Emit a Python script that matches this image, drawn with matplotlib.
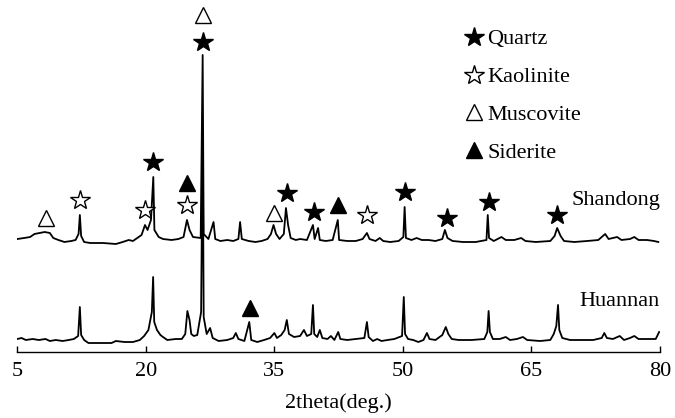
import numpy as np
import matplotlib.pyplot as plt
from matplotlib.lines import Line2D

plt.rcParams['font.family'] = ['Liberation Serif', 'DejaVu Serif']

# XRD traces, 2theta (deg) and intensity (a.u.)
huannan_2theta = [5.0, 5.5, 6.0, 6.8, 7.5, 8.3, 8.8, 9.5, 10.3, 11.0, 11.6, 12.1, 12.3, 12.45, 12.8,
                  13.3, 14.5, 16.0, 16.5, 17.5, 18.5, 19.3, 19.8, 20.3, 20.7, 20.85, 20.98, 21.3, 21.7,
                  22.0, 22.5, 23.5, 24.2, 24.6, 24.85, 25.1, 25.3, 25.6, 26.0, 26.45, 26.63, 26.75, 27.1,
                  27.5, 27.8, 28.5, 29.5, 30.2, 30.5, 30.8, 31.5, 32.07, 32.3, 33.0, 33.8, 34.5, 35.0,
                  35.3, 35.8, 36.2, 36.45, 36.7, 37.3, 38.0, 38.45, 38.8, 39.3, 39.5, 39.65, 40.0, 40.3,
                  40.6, 41.2, 41.6, 42.0, 42.45, 42.7, 43.5, 44.5, 45.5, 45.8, 46.0, 46.5, 47.0, 47.5,
                  48.2, 49.0, 49.9, 50.1, 50.25, 50.6, 51.2, 51.8, 52.4, 52.8, 53.1, 53.8, 54.6, 55.0,
                  55.3, 55.7, 56.5, 58.0, 59.5, 59.85, 60.0, 60.15, 60.5, 61.3, 62.0, 62.5, 63.3, 64.0,
                  64.5, 66.0, 67.2, 67.6, 67.9, 68.1, 68.25, 68.6, 69.5, 71.0, 72.2, 73.2, 73.5, 73.8,
                  74.5, 75.3, 75.8, 76.5, 77.0, 77.5, 78.5, 79.5, 79.9]
huannan_int = [13, 14, 12, 13, 12, 13, 11, 12, 11, 12, 13, 16, 45, 17, 12,
               9, 9, 9, 11, 10, 10, 12, 16, 22, 40, 75, 30, 22, 17,
               15, 12, 13, 13, 18, 41, 32, 18, 16, 17, 40, 225, 35, 18,
               24, 14, 11, 12, 14, 19, 13, 11, 30, 12, 10, 12, 14, 19,
               14, 17, 22, 32, 18, 15, 16, 22, 16, 18, 47, 18, 15, 22,
               14, 13, 16, 12, 20, 13, 12, 13, 14, 30, 15, 11, 13, 11,
               12, 13, 16, 55, 18, 13, 12, 10, 12, 19, 13, 12, 17, 25,
               18, 13, 12, 12, 13, 20, 41, 20, 13, 13, 15, 12, 13, 15,
               12, 11, 12, 18, 26, 47, 22, 14, 12, 12, 12, 14, 19, 14,
               13, 16, 12, 14, 16, 13, 13, 13, 20]

shandong_2theta = [5.0, 5.8, 6.5, 7.0, 7.6, 8.2, 8.8, 9.2, 9.8, 10.5, 11.3, 11.8, 12.15, 12.3, 12.45,
                   12.8, 13.5, 15.0, 16.5, 17.3, 18.0, 18.5, 19.0, 19.5, 19.9, 20.2, 20.6, 20.87, 21.0,
                   21.5, 22.0, 23.0, 23.8, 24.4, 24.8, 25.1, 25.5, 26.4, 26.63, 26.75, 27.3, 27.9, 28.1,
                   28.7, 29.5, 30.2, 30.8, 31.0, 31.2, 32.0, 32.8, 33.5, 34.2, 34.6, 34.9, 35.2, 35.6,
                   36.1, 36.35, 36.6, 36.9, 37.5, 38.0, 38.8, 39.5, 39.7, 40.1, 40.3, 41.0, 41.8, 42.4,
                   42.55, 43.5, 44.5, 45.3, 45.8, 46.1, 46.8, 47.3, 47.7, 48.5, 49.5, 50.05, 50.2, 50.35,
                   51.0, 51.6, 52.2, 53.0, 53.8, 54.6, 54.9, 55.2, 55.8, 57.0, 58.5, 59.75, 59.9, 60.05,
                   60.6, 61.5, 62.0, 63.0, 63.8, 64.3, 65.5, 67.2, 67.7, 68.0, 68.4, 68.8, 70.0, 71.5,
                   72.8, 73.6, 74.0, 75.0, 75.5, 76.5, 77.0, 77.5, 78.5, 79.3, 79.8]
shandong_int = [13, 14, 15, 18, 19, 20, 19, 14, 12, 10, 11, 12, 18, 37, 16,
                10, 9, 9, 8, 10, 12, 11, 14, 17, 27, 22, 32, 75, 22,
                15, 13, 12, 13, 15, 32, 22, 15, 14, 197, 18, 13, 30, 13,
                11, 12, 11, 13, 30, 13, 11, 10, 11, 13, 18, 27, 18, 13,
                18, 44, 27, 14, 12, 13, 12, 27, 13, 24, 12, 11, 12, 32,
                12, 11, 11, 13, 19, 13, 11, 14, 11, 10, 11, 15, 45, 14,
                12, 14, 12, 12, 11, 13, 22, 14, 11, 10, 10, 12, 37, 14,
                11, 15, 12, 12, 14, 11, 10, 11, 16, 24, 16, 11, 10, 11,
                12, 18, 13, 15, 12, 13, 15, 12, 12, 11, 10]
shandong_offset = 100

# phase marks: (2theta, height)
quartz_x = [20.85, 26.63, 36.5, 39.6, 50.2, 55.1, 60.0, 67.95]
quartz_y = [190, 310, 159, 140, 160, 134, 150, 137]
kaolinite_x = [12.3, 19.9, 24.85, 45.8]
kaolinite_y = [152, 142, 147, 137]
muscovite_x = [8.35, 26.63, 35.0]
muscovite_y = [134, 337, 139]
siderite_x = [24.85, 42.45, 32.15]
siderite_y = [169, 147, 44]

fig = plt.figure(figsize=(6.75, 4.18), dpi=100)
ax = fig.add_axes([17.3 / 675, 66 / 418, 642.7 / 675, 352 / 418])

ax.plot(huannan_2theta, huannan_int, color='black', lw=1.3)
ax.plot(shandong_2theta, np.array(shandong_int) + shandong_offset, color='black', lw=1.3)

star = dict(marker='*', markersize=15, linestyle='none', clip_on=False)
tri = dict(marker='^', markersize=11.5, linestyle='none', clip_on=False)
ax.plot(quartz_x, quartz_y, color='black', **star)
ax.plot(kaolinite_x, kaolinite_y, markerfacecolor='white', markeredgecolor='black',
        markeredgewidth=1.0, **star)
ax.plot(muscovite_x, muscovite_y, markerfacecolor='white', markeredgecolor='black',
        markeredgewidth=1.0, **tri)
ax.plot(siderite_x, siderite_y, color='black', **tri)

ax.text(80, 152, 'Shandong', ha='right', va='center', fontsize=16)
ax.text(80, 50, 'Huannan', ha='right', va='center', fontsize=16)

handles = [
    Line2D([], [], color='black', marker='*', markersize=15, linestyle='none'),
    Line2D([], [], marker='*', markersize=15, markerfacecolor='white',
           markeredgecolor='black', markeredgewidth=1.0, linestyle='none'),
    Line2D([], [], marker='^', markersize=11.5, markerfacecolor='white',
           markeredgecolor='black', markeredgewidth=1.0, linestyle='none'),
    Line2D([], [], color='black', marker='^', markersize=11.5, linestyle='none'),
]
ax.legend(handles, ['Quartz', 'Kaolinite', 'Muscovite', 'Siderite'],
          loc='upper left', bbox_to_anchor=(0.695, 0.918), frameon=False,
          fontsize=16, handlelength=0.9, handletextpad=0.15, labelspacing=0.78,
          borderpad=0, borderaxespad=0)

ax.set_xlim(5, 80)
ax.set_ylim(0, 352)
ax.set_xticks([5, 20, 35, 50, 65, 80])
ax.set_yticks([])
for s in ['left', 'right', 'top']:
    ax.spines[s].set_visible(False)
ax.spines['bottom'].set_linewidth(1.0)
ax.tick_params(axis='x', direction='in', length=4, width=1.0, pad=7, labelsize=16)
ax.set_xlabel('2theta(deg.)', fontsize=16, labelpad=9)
ax.patch.set_alpha(0)

fig.savefig('out.png', dpi=100)
